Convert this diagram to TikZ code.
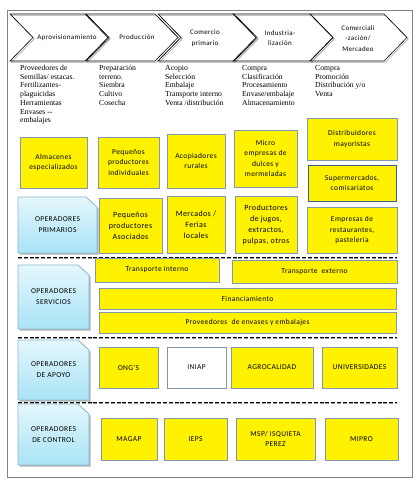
\documentclass[tikz,border=0pt]{standalone}
\usepackage{fontspec}
\setmainfont{Carlito}
\newfontfamily\boxfont[LetterSpace=5]{Carlito}
\newfontfamily\serfont{Liberation Serif}
\usetikzlibrary{shadows}
\definecolor{ybord}{HTML}{8497B0}
\definecolor{sbord}{HTML}{3D5F8F}
\definecolor{bbord}{HTML}{8CB6CC}
\definecolor{btop}{HTML}{E4F7FD}
\definecolor{bbot}{HTML}{A9E3F6}
\definecolor{frame}{HTML}{808080}
\newcommand\opbox[6]{%
  \fill[black!30] (#2+1.5,#3+1.5) -- (#4-11+1.5,#3+1.5) -- (#4+1.5,#3+10+1.5) -- (#4+1.5,#5+1.5) -- (#2+1.5,#5+1.5) -- cycle;
  \draw[draw=bbord, line width=0.8pt, top color=btop, bottom color=bbot] (#2,#3) -- (#4-11,#3) -- (#4,#3+10) -- (#4,#5) -- (#2,#5) -- cycle;
  \node[optext] (#1) at ({(#2+#4)/2},{(#3+#5)/2}) {#6};
}
\newcommand\chev[3]{% name, left, body width
  \draw[black!35, line width=0.6pt, shift={(1.3,1.3)}] (#2,14) -- (#2+#3,14) -- (#2+#3+23,37.5) -- (#2+#3,61) -- (#2,61) -- (#2+23,37.5) -- cycle;
  \draw[black, line width=0.6pt] (#2,14) -- (#2+#3,14) -- (#2+#3+23,37.5) -- (#2+#3,61) -- (#2,61) -- (#2+23,37.5) -- cycle;
  \coordinate (#1) at (#2,14);
}
\begin{document}
\begin{tikzpicture}[x=1pt,y=-1pt,
  ybox/.style={draw=ybord, fill=yellow, line width=0.8pt, inner sep=1pt, align=center,
    font=\boxfont\fontsize{7.5}{10.5}\selectfont,
    general shadow={fill=black!30, shadow xshift=1pt, shadow yshift=-1pt}},
  ybig/.style={ybox, font=\boxfont\fontsize{8}{11}\selectfont},
  optext/.style={align=center, inner sep=0pt, font=\boxfont\fontsize{7.5}{11}\selectfont},
  chevtext/.style={align=center, inner sep=0pt, font=\boxfont\fontsize{7}{10.5}\selectfont},
  sertext/.style={anchor=north west, align=left, inner sep=0pt, font=\serfont\fontsize{7.7}{8.7}\selectfont},
  dashline/.style={line width=0.8pt, dash pattern=on 4pt off 1.8pt},
  sz/.style 2 args={minimum width=#1pt, minimum height=#2pt}
]
\useasboundingbox (0,0) rectangle (419,483);
\draw[frame, line width=0.9pt] (7,10) rectangle (412,477);

% chevrons
\chev{ch1}{10}{75}
\chev{ch2}{86}{69}
\chev{ch3}{158}{76}
\chev{ch4}{233}{77}
\chev{ch5}{310}{74}
\node[chevtext] (l1) at (67,38) {Aprovisionamiento};
\node[chevtext] (l2) at (137,37) {Producción};
\node[chevtext] (l3) at (205,38) {Comercio\\primario};
\node[chevtext] (l4) at (280,38) {Industria-\\lización};
\node[chevtext] (l5) at (358,38.5) {Comerciali\\-zación/\\Mercadeo};

% activity lists
\node[sertext] (t1) at (20,65) {Proveedores de\\Semillas/ estacas.\\Fertilizantes-\\plaguicidas\\Herramientas\\Envases --\\embalajes};
\node[sertext] (t2) at (99,65) {Preparación\\terreno.\\Siembra\\Cultivo\\Cosecha};
\node[sertext] (t3) at (165,65) {Acopio\\Selección\\Embalaje\\Transporte interno\\Venta /distribución};
\node[sertext] (t4) at (242,65) {Compra\\Clasificación\\Procesamiento\\Envase/embalaje\\Almacenamiento};
\node[sertext] (t5) at (315,65) {Compra\\Promoción\\Distribución y/o\\Venta};

% primary row 1
\node[ybox, sz={67}{51}] (alm) at (53.5,162.5) {Almacenes\\especializados};
\node[ybox, sz={61}{51}] (ppi) at (128.5,162.5) {Pequeños\\productores\\individuales};
\node[ybox, sz={58}{54}] (aco) at (196,161) {Acopiadores\\rurales};
\node[ybox, sz={63}{57}] (mic) at (265.5,158.5) {Micro\\empresas de\\dulces y\\mermeladas};
\node[ybox, sz={90}{42}] (dis) at (352,139) {Distribuidores\\mayoristas};
\node[ybox, draw=sbord, sz={88}{36}] (sup) at (352,183) {Supermercados,\\comisariatos};

% primary row 2
\opbox{opp}{18}{197}{97}{253}{OPERADORES\\PRIMARIOS}
\node[ybig, sz={63}{55}] (ppa) at (130.5,225.5) {Pequeños\\productores\\Asociados};
\node[ybig, sz={58}{57}] (mer) at (196,224.5) {Mercados /\\Ferias\\locales};
\node[ybig, sz={62}{57}] (pro) at (266,224.5) {Productores\\de jugos,\\extractos,\\pulpas, otros};
\node[ybox, sz={90}{46}] (emp) at (352,230) {Empresas de\\restaurantes,\\pastelería};

\draw[black!40, dashline] (18,258.3) -- (397,258.3);
\draw[dashline] (18,257) -- (397,257);

% services
\opbox{ops}{18}{265}{89}{329}{OPERADORES\\SERVICIOS}
\node[ybox, sz={124}{24}] (ti) at (157,270) {Transporte interno};
\node[ybox, sz={165}{23}] (te) at (314.5,271.5) {Transporte\ \ externo};
\node[ybox, sz={297}{21}] (fin) at (247.5,298.5) {Financiamiento};
\node[ybox, sz={297}{21}] (pee) at (247.5,322.5) {Proveedores\ \ de envases y embalajes};

\draw[black!40, dashline] (18,338.3) -- (397,338.3);
\draw[dashline] (18,337) -- (397,337);

% support
\opbox{opa}{18}{340}{89}{400}{OPERADORES\\DE APOYO}
\node[ybox, sz={59}{41}] (ong) at (128.5,367.5) {ONG’S};
\node[ybox, fill=white, sz={59}{41}] (ini) at (196.5,367.5) {INIAP};
\node[ybox, sz={82}{41}] (agr) at (272,367.5) {AGROCALIDAD};
\node[ybox, sz={75}{41}] (uni) at (359.5,367.5) {UNIVERSIDADES};

\draw[black!40, dashline] (18,403.3) -- (397,403.3);
\draw[dashline] (18,402) -- (397,402);

% control
\opbox{opc}{18}{404}{89}{465}{OPERADORES\\DE CONTROL}
\node[ybox, sz={56}{42}] (mag) at (129,439) {MAGAP};
\node[ybox, sz={63}{42}] (ieps) at (195.5,439) {IEPS};
\node[ybox, sz={79}{42}] (msp) at (275.5,439) {MSP/ ISQUIETA\\PEREZ};
\node[ybox, sz={73}{42}] (mip) at (361.5,439) {MIPRO};
\end{tikzpicture}
\end{document}
